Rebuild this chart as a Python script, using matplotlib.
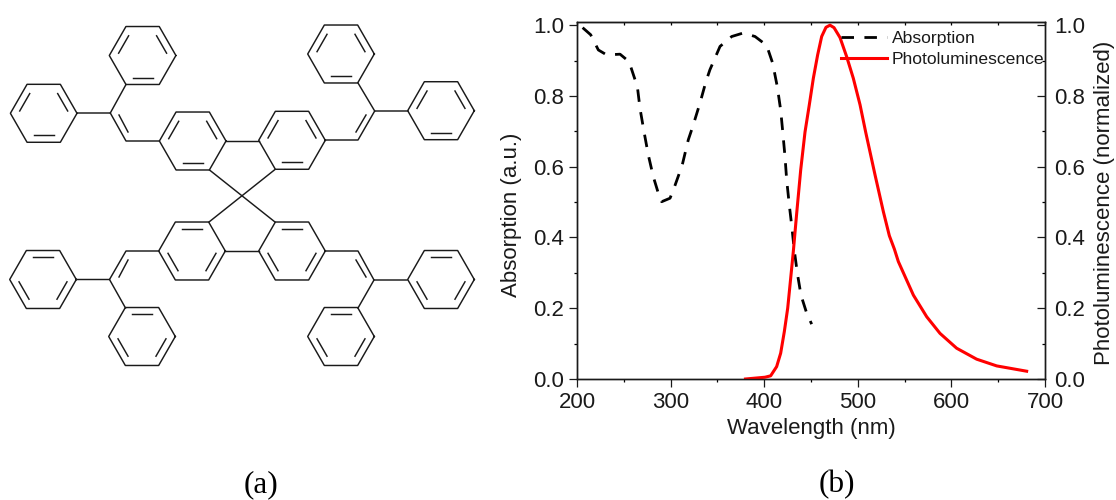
import numpy as np
from matplotlib import pyplot as plt

plt.rcParams["font.family"] = ["Liberation Sans", "DejaVu Sans"]
plt.rcParams["lines.scale_dashes"] = False

# spectra
abs_wl = [206, 214.6, 222.8, 231.7, 246, 255.6, 260, 264.5, 267.3, 271.6, 276.2, 281.5, 286.9, 290.4,
          299.4, 303.6, 309, 312.9, 318.9, 323.6, 331.4, 337.8, 342, 347.4, 352.8, 365.3, 377.7, 390.2,
          402.6, 409, 414, 417.6, 419.8, 422.2, 424, 426.8, 429.7, 432, 435.4, 439.3, 445.4, 450.7]
abs_val = [0.993, 0.973, 0.93, 0.916, 0.918, 0.897, 0.862, 0.826, 0.765, 0.699, 0.633, 0.572, 0.525, 0.501,
           0.511, 0.539, 0.579, 0.61, 0.676, 0.713, 0.78, 0.841, 0.874, 0.907, 0.94, 0.968, 0.978, 0.968,
           0.943, 0.893, 0.826, 0.76, 0.699, 0.629, 0.563, 0.492, 0.426, 0.367, 0.299, 0.237, 0.186, 0.155]
pl_wl = [380, 400.9, 406.9, 413.3, 417.6, 421.5, 425.1, 428.3, 431.1, 434.7, 439, 443.6, 448.2, 452.5, 457.1,
         461.4, 466, 470.3, 474.6, 481, 488.1, 495.2, 502.4, 508.4, 518.4, 527.3, 533.7, 539.1, 543.3, 559.4,
         573.6, 587.8, 605.6, 627, 648.4, 680.4]
pl_val = [0, 0.005, 0.009, 0.035, 0.073, 0.134, 0.2, 0.285, 0.36, 0.468, 0.591, 0.698, 0.775, 0.85, 0.916,
          0.968, 0.994, 1.0, 0.993, 0.965, 0.911, 0.85, 0.775, 0.698, 0.577, 0.473, 0.405, 0.367, 0.332, 0.237,
          0.176, 0.129, 0.087, 0.056, 0.037, 0.022]

x_major = [200, 300, 400, 500, 600, 700]
x_minor = [250, 350, 450, 550, 650]
y_major = [0.0, 0.2, 0.4, 0.6, 0.8, 1.0]
y_minor = [0.1, 0.3, 0.5, 0.7, 0.9]

# molecule, in picture pixels
ring_r = 33.3
rings_down = [(142.6, 55.5), (43.7, 113.3), (192.7, 141), (341, 54), (441, 110.7), (292, 140.3)]
rings_up = [(43, 279.5), (142, 336.5), (192, 251), (441, 279.5), (341, 336.5), (292, 251)]
bonds = [
    [(77, 113), (110.3, 113), (126, 141), (159, 141)],
    [(126, 84.5), (110.3, 113)],
    [(325, 140), (358, 140), (374.7, 111), (408, 111)],
    [(358, 83), (374.7, 111)],
    [(159, 251), (126, 251), (109.5, 279.5), (76.5, 279.5)],
    [(109.5, 279.5), (125.5, 308)],
    [(325, 251), (358, 251), (374, 280), (407, 280)],
    [(374, 280), (358, 308)],
    [(226, 141), (258.7, 141)],
    [(225, 251), (258.7, 251)],
    [(209.5, 170), (275, 222)],
    [(275, 169.5), (209, 222)],
]
double_bonds = [
    [(119, 115), (128, 132)],
    [(366, 115), (356, 132)],
    [(119, 277), (128, 260)],
    [(366, 277), (356, 260)],
]


def draw_ring(ax, cx, cy, inner):
    ang = np.radians([0, 60, 120, 180, 240, 300, 360])
    xs = cx + ring_r * np.cos(ang)
    ys = cy + ring_r * np.sin(ang) * 1.005
    ax.plot(xs, ys, color="#1a1a1a", lw=1.05)
    for k in inner:
        mx = (xs[k] + xs[k + 1]) / 2
        my = (ys[k] + ys[k + 1]) / 2
        x0 = cx + 0.76 * (mx - cx) + 0.3 * (xs[k] - mx) * 2
        y0 = cy + 0.76 * (my - cy) + 0.3 * (ys[k] - my) * 2
        x1 = cx + 0.76 * (mx - cx) + 0.3 * (xs[k + 1] - mx) * 2
        y1 = cy + 0.76 * (my - cy) + 0.3 * (ys[k + 1] - my) * 2
        ax.plot([x0, x1], [y0, y1], color="#1a1a1a", lw=1.05)


fig = plt.figure(figsize=(11.16, 5), dpi=100)

mol = fig.add_axes([0, 0, 1, 1])
mol.set_xlim(0, 1116)
mol.set_ylim(500, 0)
mol.axis("off")
for c in rings_down:
    # y axis points down: edge 1 is the bottom one
    draw_ring(mol, c[0], c[1], [1, 3, 5])
for c in rings_up:
    draw_ring(mol, c[0], c[1], [4, 0, 2])
for b in bonds + double_bonds:
    mol.plot([p[0] for p in b], [p[1] for p in b], color="#1a1a1a", lw=1.05)
mol.text(261, 485, "(a)", family="Liberation Serif", fontsize=22.5, ha="center", va="center")
mol.text(837, 485, "(b)", family="Liberation Serif", fontsize=22.5, ha="center", va="center")

ax = fig.add_axes([577 / 1116, 121 / 500, 468 / 1116, 357 / 500])
ax.patch.set_alpha(0)
line1, = ax.plot(abs_wl, abs_val, color="black", lw=2.0, dashes=(9, 7.5))
ax.set_xlim(200, 700)
ax.set_ylim(0, 1.009)
ax.set_xticks(x_major)
ax.set_xticks(x_minor, minor=True)
ax.set_yticks(y_major)
ax.set_yticks(y_minor, minor=True)
ax.tick_params(axis="x", which="major", direction="out", length=5.5, width=0.9, labelsize=16, colors="#1a1a1a", pad=4)
ax.tick_params(axis="y", which="major", direction="out", length=5.5, width=0.9, labelsize=16, colors="#1a1a1a", pad=4)
ax.tick_params(axis="both", which="minor", direction="out", length=2.5, width=0.9)
ax.set_xlabel("Wavelength (nm)", fontsize=16, color="#1a1a1a")
ax.set_ylabel("Absorption (a.u.)", fontsize=16, color="#1a1a1a")
ax.xaxis.set_label_coords((811 - 577) / 468, -0.108)
ax.yaxis.set_label_coords((522 - 577) / 468, (379 - 215) / 357)

top = ax.secondary_xaxis("top")
top.set_xticks(x_major + x_minor)
top.tick_params(direction="in", length=2.5, width=0.9, labeltop=False)

ax2 = ax.twinx()
line2, = ax2.plot(pl_wl, pl_val, color="#ff0000", lw=2.2)
ax2.set_ylim(0, 1.009)
ax2.set_yticks(y_major)
ax2.set_yticks(y_minor, minor=True)
ax2.tick_params(axis="y", which="major", direction="in", length=5.5, width=0.9, labelsize=16, colors="#1a1a1a", pad=6.5)
ax2.tick_params(axis="y", which="minor", direction="in", length=2.5, width=0.9)
ax2.set_ylabel("Photoluminescence (normalized)", fontsize=16, color="#1a1a1a")
ax2.yaxis.set_label_coords((1094 - 577) / 468, (379 - 203) / 357)

for a in [ax, ax2]:
    for s in a.spines.values():
        s.set_linewidth(1.0)
        s.set_color("#1a1a1a")

ax2.legend([line1, line2], ["Absorption", "Photoluminescence"], loc="upper left",
           bbox_to_anchor=((841 - 577) / 468, 0.975), frameon=False, fontsize=12.6,
           borderpad=0, borderaxespad=0, handlelength=2.63, handletextpad=0.29, labelspacing=0.3,
           labelcolor="#1a1a1a")

fig.savefig("out.png", dpi=100)
